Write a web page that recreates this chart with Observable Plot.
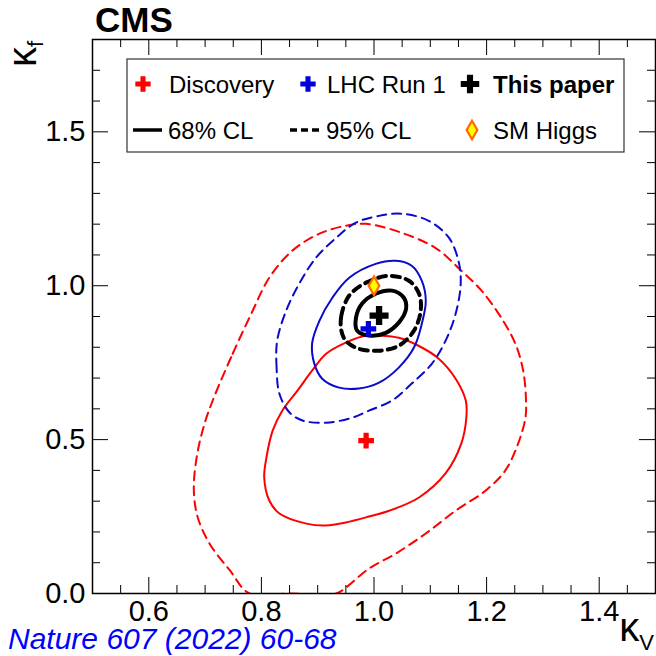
<!DOCTYPE html>
<html>
<head>
<meta charset="utf-8">
<script src="https://cdn.jsdelivr.net/npm/d3@7"></script>
<script src="https://cdn.jsdelivr.net/npm/@observablehq/plot@0.6"></script>
<style>
  html, body { margin: 0; padding: 0; background: #fff; overflow: hidden; }
  #chart svg { display: block; }
</style>
</head>
<body>
<div id="chart"></div>
<script>
// ---- Data ----
const discovery68 = [[0.864,0.659],[0.890,0.724],[0.915,0.779],[0.950,0.815],[0.986,0.838],[1.009,0.838],[1.044,0.831],[1.079,0.805],[1.115,0.763],[1.145,0.698],[1.163,0.627],[1.164,0.571],[1.155,0.487],[1.127,0.390],[1.080,0.312],[1.027,0.269],[0.991,0.250],[0.950,0.231],[0.915,0.221],[0.880,0.227],[0.832,0.260],[0.814,0.302],[0.805,0.377],[0.809,0.442],[0.820,0.529],[0.837,0.594]];
const discovery95 = [[0.717,0.643],[0.749,0.779],[0.782,0.909],[0.814,1.026],[0.855,1.114],[0.903,1.169],[0.950,1.195],[0.986,1.201],[1.049,1.172],[1.109,1.123],[1.155,1.049],[1.191,0.984],[1.226,0.896],[1.251,0.812],[1.265,0.724],[1.270,0.627],[1.269,0.571],[1.256,0.487],[1.233,0.399],[1.198,0.334],[1.145,0.269],[1.092,0.195],[1.039,0.130],[0.991,0.081],[0.950,0.019],[0.933,0.0],[0.850,0.0],[0.779,0.0],[0.744,0.075],[0.708,0.162],[0.687,0.247],[0.680,0.334],[0.685,0.442],[0.699,0.552]];
const run1_68 = [[0.956,1.026],[1.003,1.071],[1.039,1.081],[1.067,1.065],[1.085,1.016],[1.092,0.951],[1.085,0.877],[1.071,0.799],[1.044,0.734],[1.009,0.685],[0.973,0.666],[0.938,0.669],[0.908,0.698],[0.894,0.747],[0.890,0.812],[0.903,0.886],[0.926,0.961]];
const run1_95 = [[0.832,0.649],[0.827,0.734],[0.828,0.821],[0.844,0.919],[0.867,1.006],[0.897,1.091],[0.933,1.156],[0.968,1.205],[1.009,1.227],[1.049,1.234],[1.097,1.211],[1.133,1.156],[1.150,1.081],[1.154,1.006],[1.145,0.909],[1.127,0.821],[1.103,0.747],[1.067,0.682],[1.032,0.627],[0.991,0.594],[0.961,0.571],[0.915,0.555],[0.873,0.562],[0.850,0.588]];
const paper68 = [[0.968,0.896],[0.979,0.942],[1.003,0.974],[1.032,0.984],[1.053,0.961],[1.057,0.925],[1.044,0.880],[1.021,0.847],[0.991,0.838],[0.970,0.854]];
const paper95 = [[0.942,0.854],[0.942,0.903],[0.956,0.968],[0.986,1.010],[1.026,1.032],[1.062,1.016],[1.080,0.974],[1.083,0.919],[1.071,0.854],[1.044,0.805],[1.009,0.789],[0.973,0.795],[0.950,0.821]];

const discoveryBest = [[0.986, 0.497]];
const run1Best = [[0.990, 0.860]];
const paperBest = [[1.009, 0.903]];
const smHiggs = [[1.0, 1.0]];

const xMajor = [0.6, 0.8, 1.0, 1.2, 1.4];
const xMinor = [0.55, 0.65, 0.7, 0.75, 0.85, 0.9, 0.95, 1.05, 1.1, 1.15, 1.25, 1.3, 1.35, 1.45];
const yMajor = [0.0, 0.5, 1.0, 1.5];
const yMinor = [0.1, 0.2, 0.3, 0.4, 0.6, 0.7, 0.8, 0.9, 1.1, 1.2, 1.3, 1.4, 1.6, 1.7];

const legendRow1 = ["Discovery", "LHC Run 1", "This paper"];
const legendRow2 = ["68% CL", "95% CL", "SM Higgs"];

// ---- Layout ----
const W = 656, H = 656;
const mt = 39, mb = 63, ml = 92, mr = 1;
const innerH = H - mt - mb, innerW = W - ml - mr;
const RED = "#ff0000", BLUE = "#0a0acc", BLACK = "#000";
const FONT = "'Liberation Sans', Arial, Helvetica, sans-serif";
const px = d => d[0], py = d => d[1];

const contour = (data, stroke, sw, dash) =>
  Plot.line(data, {x: px, y: py, curve: "catmull-rom-closed", stroke, strokeWidth: sw, strokeDasharray: dash, clip: true});

const plot = Plot.plot({
  width: W, height: H,
  marginTop: mt, marginBottom: mb, marginLeft: ml, marginRight: mr,
  x: {domain: [0.5, 1.5], label: null},
  y: {domain: [0, 1.8], label: null},
  style: {fontFamily: FONT, fontSize: "29px", color: "#000", background: "#fff"},
  marks: [
    // contours
    contour(discovery95, RED, 2, "9,6"),
    contour(discovery68, RED, 2, null),
    contour(run1_95, BLUE, 2, "9,6"),
    contour(run1_68, BLUE, 2, null),
    contour(paper95, BLACK, 4, "8,6"),
    contour(paper68, BLACK, 4, null),
    // best fits
    Plot.dot(discoveryBest, {x: px, y: py, symbol: "cross", r: 6.6, fill: RED}),
    Plot.dot(run1Best, {x: px, y: py, symbol: "cross", r: 6.6, fill: "#0000dd"}),
    Plot.dot(paperBest, {x: px, y: py, symbol: "cross", r: 8.0, fill: BLACK}),
    Plot.dot(smHiggs, {x: px, y: py, symbol: "diamond", r: 5.6, fill: "#ffff00", stroke: "#ff6a00", strokeWidth: 2.2}),
    // ticks (inside, all four sides)
    Plot.tickX(xMinor, {x: d => d, insetTop: innerH - 8, stroke: BLACK}),
    Plot.tickX(xMajor, {x: d => d, insetTop: innerH - 16, stroke: BLACK}),
    Plot.tickX(xMinor, {x: d => d, insetBottom: innerH - 8, stroke: BLACK}),
    Plot.tickX(xMajor, {x: d => d, insetBottom: innerH - 16, stroke: BLACK}),
    Plot.tickY(yMinor, {y: d => d, insetRight: innerW - 8, stroke: BLACK}),
    Plot.tickY(yMajor, {y: d => d, insetRight: innerW - 16, stroke: BLACK}),
    Plot.tickY(yMinor, {y: d => d, insetLeft: innerW - 8, stroke: BLACK}),
    Plot.tickY(yMajor, {y: d => d, insetLeft: innerW - 16, stroke: BLACK}),
    // tick labels
    Plot.axisX(xMajor, {tickSize: 0, tickPadding: 7, tickFormat: d => d.toFixed(1), label: null, fontSize: 29}),
    Plot.axisY(yMajor, {tickSize: 0, tickPadding: 7, tickFormat: d => d.toFixed(1), label: null, fontSize: 29}),
    Plot.frame({stroke: BLACK, strokeWidth: 1.5})
  ]
});

document.getElementById("chart").appendChild(plot);

// ---- Annotations drawn into the same SVG ----
const svg = d3.select(plot);
const g = svg.append("g").attr("font-family", FONT).attr("fill", "#000");

// CMS label
g.append("text").attr("x", 95).attr("y", 32).attr("font-size", 35).attr("font-weight", "bold")
  .attr("text-anchor", "start").text("CMS");

// y-axis title κ_f (rotated)
const yt = g.append("text").attr("transform", "translate(36,67) rotate(-90)")
  .attr("text-anchor", "start").attr("font-size", 40);
yt.append("tspan").text("κ");
yt.append("tspan").attr("font-size", 22).attr("dy", 7).text("f");

// x-axis title κ_V
const xt = g.append("text").attr("x", 654).attr("y", 641)
  .attr("text-anchor", "end").attr("font-size", 40);
xt.append("tspan").text("κ");
xt.append("tspan").attr("font-size", 22).attr("dy", 9).text("V");

// caption
g.append("text").attr("x", 8).attr("y", 649).attr("font-size", 30).attr("font-style", "italic")
  .attr("fill", "#0000ff").attr("text-anchor", "start").text("Nature 607 (2022) 60-68");

// Legend
const lg = g.append("g");
lg.append("rect").attr("x", 127).attr("y", 59).attr("width", 497).attr("height", 93)
  .attr("fill", "#fff").attr("stroke", "#333").attr("stroke-width", 1.2);

const crossPath = size => d3.symbol(d3.symbolCross, size)();
const row1y = 84, row2y = 130;
[[143, RED, 130], [308, "#0000dd", 130], [470, BLACK, 190]].forEach(([cx, c, s]) => {
  lg.append("path").attr("d", crossPath(s)).attr("transform", `translate(${cx},${row1y})`).attr("fill", c);
});
const row1x = [169, 327, 493];
legendRow1.forEach((t, i) => {
  lg.append("text").attr("x", row1x[i]).attr("y", 93).attr("font-size", 24)
    .attr("text-anchor", "start").attr("font-weight", i === 2 ? "bold" : "normal").text(t);
});
lg.append("line").attr("x1", 133).attr("x2", 162).attr("y1", row2y).attr("y2", row2y)
  .attr("stroke", BLACK).attr("stroke-width", 3.5);
lg.append("line").attr("x1", 290).attr("x2", 321).attr("y1", row2y).attr("y2", row2y)
  .attr("stroke", BLACK).attr("stroke-width", 3.5).attr("stroke-dasharray", "7,4");
lg.append("path").attr("d", d3.symbol(d3.symbolDiamond, 100)()).attr("transform", `translate(472,${row2y})`)
  .attr("fill", "#ffff00").attr("stroke", "#ff6a00").attr("stroke-width", 2.2);
const row2x = [168, 326, 493];
legendRow2.forEach((t, i) => {
  lg.append("text").attr("x", row2x[i]).attr("y", 139).attr("font-size", 24)
    .attr("text-anchor", "start").text(t);
});
</script>
</body>
</html>
